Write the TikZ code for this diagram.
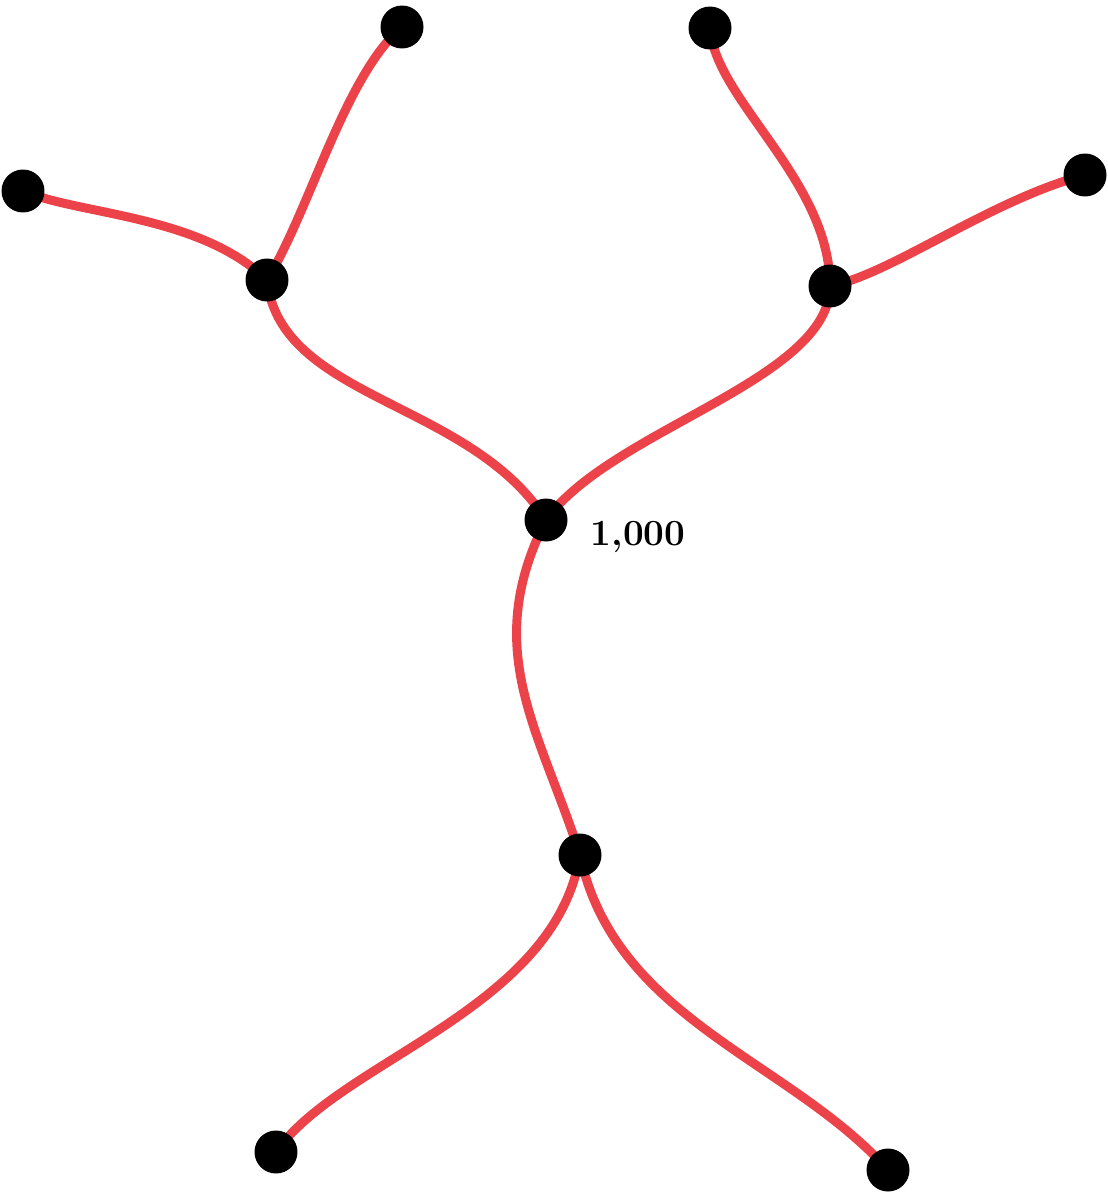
\documentclass[tikz,border=0pt]{standalone}
\usetikzlibrary{backgrounds}
\definecolor{branchred}{RGB}{236,66,74}
\tikzset{
  junction/.style={
    circle,
    fill=black,
    inner sep=0pt,
    minimum size=0.86cm
  },
  branch/.style={
    draw=branchred,
    line width=0.18cm,
    line cap=round
  }
}

\begin{document}
\begin{tikzpicture}[x=0.02cm,y=0.02cm]

  % Page frame in pixel units of the reference.
  \useasboundingbox (0,0) rectangle (1107,-1193);

  % Junctions and tips of the tree.
  \node[junction] (tipL)  at (23,-191)  {};
  \node[junction] (tipTL) at (402,-27)  {};
  \node[junction] (tipTR) at (710,-28)  {};
  \node[junction] (tipR)  at (1085,-175) {};
  \node[junction] (forkL) at (267,-280) {};
  \node[junction] (forkR) at (830,-286) {};
  \node[junction] (root)  at (546,-520) {};
  \node[junction] (forkB) at (580,-855) {};
  \node[junction] (tipBL) at (276,-1152) {};
  \node[junction] (tipBR) at (888,-1170) {};

  % Value at the main junction.
  \node[font=\fontsize{21}{23}\selectfont\bfseries] (value) at (638,-537) {1,000};

  % Branches, drawn below the junctions.
  \begin{scope}[on background layer]
    \draw[branch] (tipL.center) .. controls (80,-215) and (200,-215) .. (forkL.center);
    \draw[branch] (forkL.center) .. controls (310,-210) and (345,-75) .. (tipTL.center);
    \draw[branch] (forkL.center) .. controls (280,-400) and (470,-400) .. (root.center);
    \draw[branch] (tipTR.center) .. controls (715,-100) and (830,-180) .. (forkR.center);
    \draw[branch] (forkR.center) .. controls (890,-275) and (990,-200) .. (tipR.center);
    \draw[branch] (root.center) .. controls (610,-430) and (830,-380) .. (forkR.center);
    \draw[branch] (root.center) .. controls (480,-650) and (540,-730) .. (forkB.center);
    \draw[branch] (forkB.center) .. controls (555,-1010) and (340,-1060) .. (tipBL.center);
    \draw[branch] (forkB.center) .. controls (615,-1020) and (790,-1060) .. (tipBR.center);
  \end{scope}

\end{tikzpicture}
\end{document}
